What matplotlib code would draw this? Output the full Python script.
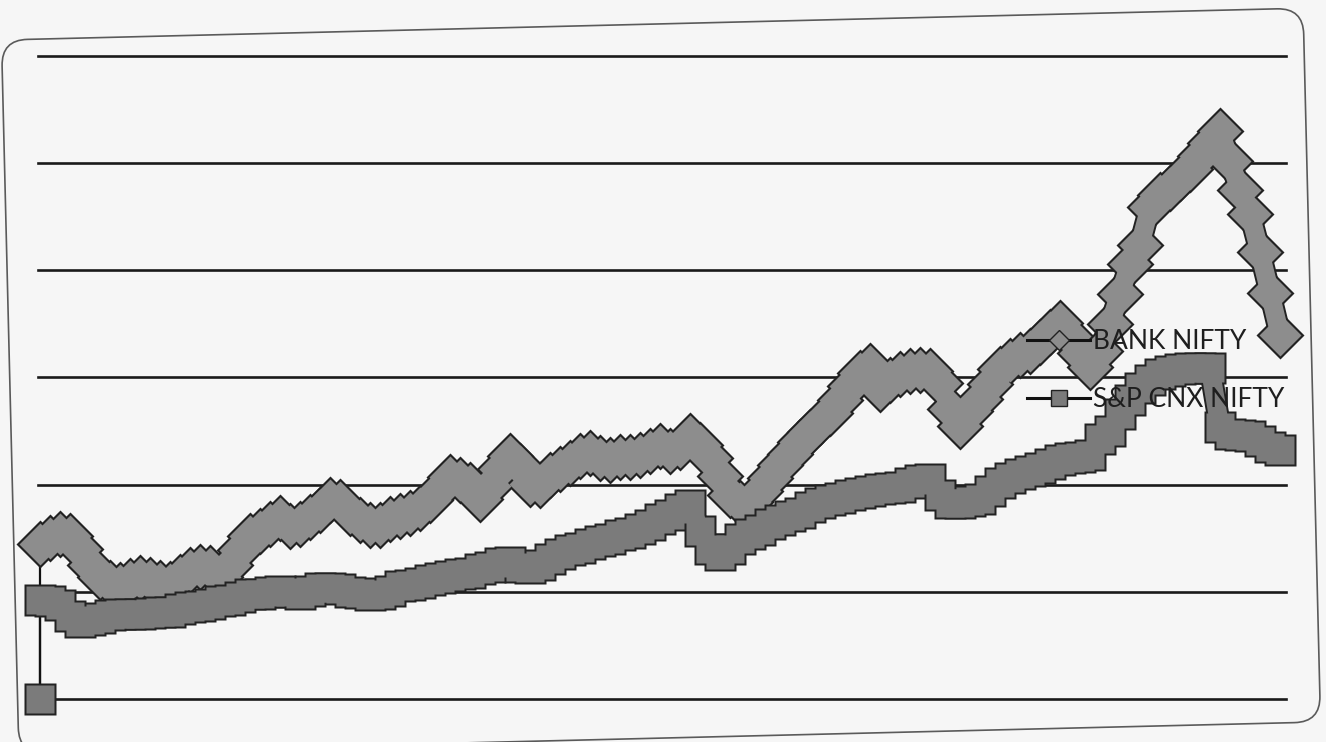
import numpy as np
import matplotlib
matplotlib.use("Agg")
import matplotlib.pyplot as plt
import matplotlib.transforms as mtransforms
from matplotlib.patches import FancyBboxPatch
from matplotlib.lines import Line2D

# Index levels per period (series open from a zero baseline)
bank_nifty = [
    0,
    1450, 1500, 1540, 1520, 1400, 1250, 1140, 1080, 1060, 1100,
    1130, 1110, 1080, 1070, 1140, 1200, 1230, 1220, 1140, 1250,
    1390, 1520, 1570, 1630, 1690, 1610, 1630, 1700, 1760, 1860,
    1840, 1740, 1670, 1620, 1620, 1680, 1710, 1740, 1780, 1860,
    1960, 2070, 2040, 2000, 1870, 1990, 2150, 2270, 2170, 2010,
    2000, 2090, 2150, 2200, 2270, 2300, 2250, 2230, 2260, 2260,
    2280, 2310, 2360, 2310, 2350, 2450, 2370, 2250, 2080, 1900,
    1830, 1840, 1940, 2060, 2180, 2290, 2400, 2490, 2580, 2670,
    2790, 2920, 3040, 3110, 2890, 2980, 3030, 3060, 3070, 3060,
    2950, 2710, 2550, 2690, 2800, 2940, 3080, 3150, 3210, 3250,
    3330, 3420, 3510, 3390, 3230, 3100, 3250, 3500, 3780, 4060,
    4240, 4590, 4700, 4770, 4860, 4950, 5070, 5190, 5300, 5020,
    4750, 4530, 4170, 3790, 3400,
]
sp_cnx_nifty = [
    0,
    920, 910, 880, 770, 720, 740, 760, 780, 790, 790,
    790, 800, 810, 810, 840, 860, 870, 890, 910, 920,
    950, 980, 980, 1000, 1010, 1000, 980, 1010, 1040, 1040,
    1030, 1000, 990, 970, 980, 1010, 1050, 1060, 1080, 1110,
    1130, 1150, 1170, 1180, 1210, 1230, 1270, 1280, 1230, 1220,
    1250, 1310, 1350, 1390, 1410, 1450, 1470, 1490, 1530, 1550,
    1590, 1620, 1680, 1720, 1770, 1810, 1570, 1400, 1340, 1400,
    1490, 1540, 1580, 1630, 1670, 1710, 1740, 1790, 1830, 1860,
    1880, 1900, 1920, 1940, 1960, 1970, 1980, 2020, 2040, 2050,
    1900, 1830, 1830, 1850, 1870, 1940, 2020, 2060, 2100, 2130,
    2160, 2190, 2230, 2250, 2260, 2280, 2430, 2500, 2660, 2790,
    2900, 2980, 3030, 3060, 3080, 3090, 3090, 3090, 2540, 2470,
    2460, 2450, 2410, 2350, 2320,
]
series_names = ["BANK NIFTY", "S&P CNX NIFTY"]
gridline_values = [0, 1000, 2000, 3000, 4000, 5000, 6000]

# the zero baseline shares the first period's position
n = len(bank_nifty)
period = np.r_[0, np.arange(n - 1)]

bg = "#f6f6f6"
edge_dark = "#222222"
bank_fill = "#8d8d8d"
nifty_fill = "#7b7b7b"

fig = plt.figure(figsize=(13.26, 7.42), dpi=100, facecolor=bg)
ax = fig.add_axes([0.0287, 0.058, 0.9411, 0.8665])
ax.set_facecolor("none")
for s in ax.spines.values():
    s.set_visible(False)

ax.set_xlim(-0.2, n - 2 + 0.6)
ax.set_ylim(gridline_values[0], gridline_values[-1])
ax.set_xticks([])
ax.set_yticks([])
for g in gridline_values:
    ax.axhline(g, color="#1a1a1a", lw=1.9, zorder=1, clip_on=False)


def draw_series(values, marker, ms, band_lw, fill, z, skip_first):
    every = slice(1, None) if skip_first else None
    edge = 1.4
    # thin connector from the zero baseline
    ax.plot(period[:2], values[:2], color="#111111", lw=1.6, zorder=z, clip_on=False)
    # dark outline: wide line plus markers
    ax.plot(period[1:], values[1:], color=edge_dark, lw=band_lw + 2 * edge,
            solid_capstyle="butt", solid_joinstyle="round", zorder=z, clip_on=False)
    ax.plot(period, values, ls="none", marker=marker, ms=ms + 2 * edge,
            mfc=edge_dark, mec="none", markevery=every, zorder=z, clip_on=False)
    # grey body on top
    ax.plot(period[1:], values[1:], color=fill, lw=band_lw,
            solid_capstyle="butt", solid_joinstyle="round", zorder=z + 0.1, clip_on=False)
    ax.plot(period, values, ls="none", marker=marker, ms=ms,
            mfc=fill, mec="none", markevery=every, zorder=z + 0.2, clip_on=False)


draw_series(bank_nifty, "D", 21.5, 13.5, bank_fill, 2, True)
draw_series(sp_cnx_nifty, "s", 20.5, 13.5, nifty_fill, 3, False)

handles = [
    Line2D([], [], color="#111111", lw=2.2, marker="D", ms=10,
           mfc=bank_fill, mec=edge_dark, mew=1.0),
    Line2D([], [], color="#111111", lw=2.2, marker="s", ms=12,
           mfc=nifty_fill, mec=edge_dark, mew=1.0),
]
leg = ax.legend(handles, series_names, loc="upper left",
                bbox_to_anchor=(0.7745, 0.556), bbox_transform=fig.transFigure,
                frameon=False, prop={"family": "Lato", "size": 19},
                handlelength=2.4, handletextpad=0.1, labelspacing=1.25,
                borderpad=0, borderaxespad=0)
for t in leg.get_texts():
    t.set_color("#1e1e1e")
leg.set_zorder(10)

# rounded chart-area border, slightly skewed on the page
frame = FancyBboxPatch((0.10, 0.04), 13.02, 7.14,
                       boxstyle="round,pad=0,rounding_size=0.26",
                       transform=mtransforms.Affine2D().rotate_deg_around(6.61, 3.61, 1.4)
                       + fig.dpi_scale_trans,
                       fill=False, ec="#5a5a5a", lw=1.2)
fig.add_artist(frame)

fig.savefig("out.png", dpi=100, facecolor=bg)
